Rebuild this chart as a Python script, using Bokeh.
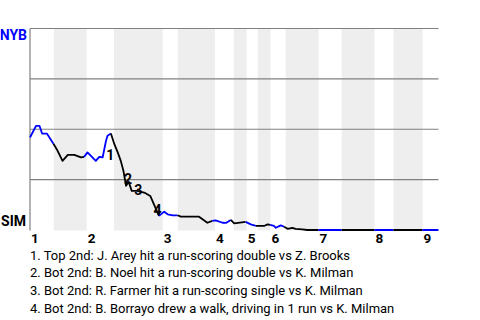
import numpy as np
from bokeh.plotting import figure
from bokeh.models import Range1d
from bokeh.embed import file_html
from bokeh.resources import INLINE
from bokeh.core.properties import value

# ---- data ----
half_inning_starts = [0, 6.3, 15.0, 22.2, 35.1, 39.1, 48.9, 53.9, 57.3, 60.2,
                      63.6, 67.6, 76.3, 82.4, 91.1, 96.1, 103.8]
game_end = 108
inning_labels = ["1", "2", "3", "4", "5", "6", "7", "8", "9"]

pa_x = [0, 1.6, 2.5, 3.2, 4.5, 6.2,
        7.3, 8.6, 10.0, 11.7, 13.5, 14.3,
        15.2, 17.4, 18.3, 19.2, 20.1, 20.5, 21.4,
        22.3, 23.2, 24.0, 24.7, 25.4, 26.1, 26.9, 28.3, 30.2, 31.8, 34.1,
        35.5, 36.4, 37.7, 39.0,
        39.9, 44.7, 46.9, 48.2,
        49.1, 50.9, 51.8, 53.1,
        54.0, 57.0,
        58.4, 59.7,
        61.9, 62.8, 63.5,
        64.5, 65.0, 66.3, 67.2,
        68.1, 69.4, 70.2, 72.0, 73.3, 76.3,
        82.4, 91.1, 96.1, 103.8, 108]
nyb_wp = [0.459, 0.517, 0.517, 0.479, 0.478, 0.428,
          0.393, 0.343, 0.373, 0.373, 0.360, 0.363,
          0.385, 0.343, 0.363, 0.360, 0.443, 0.468, 0.479,
          0.426, 0.385, 0.343, 0.294, 0.219, 0.239, 0.194, 0.194, 0.186, 0.169, 0.070,
          0.091, 0.078, 0.073, 0.073,
          0.066, 0.066, 0.036, 0.045,
          0.048, 0.036, 0.035, 0.050,
          0.033, 0.040,
          0.028, 0.020,
          0.020, 0.028, 0.025,
          0.020, 0.011, 0.023, 0.016,
          0.006, 0.011, 0.006, 0.003, 0.0, 0.0,
          0.0, 0.0, 0.0, 0.0, 0.0]

event_ids = ["1", "2", "3", "4"]
event_x = [21.2, 25.9, 28.6, 33.7]
event_y = [0.376, 0.254, 0.199, 0.102]
event_notes = [
    "1. Top 2nd: J. Arey hit a run-scoring double vs Z. Brooks",
    "2. Bot 2nd: B. Noel hit a run-scoring double vs K. Milman",
    "3. Bot 2nd: R. Farmer hit a run-scoring single vs K. Milman",
    "4. Bot 2nd: B. Borrayo drew a walk, driving in 1 run vs K. Milman",
]
team_top = "NYB"
team_bottom = "SIM"
grid_levels = [0.25, 0.5, 0.75, 1.0]

TOP_COLOR = "#0000ff"
BOT_COLOR = "#000000"
FONT = value("Roboto")

# frame fills the whole canvas; ranges place the chart area inside it
PX_X = 3.782   # pixels per plate-appearance unit
PX_Y = 201.5   # pixels per unit of probability
X_ORIGIN, Y_ORIGIN = 29.5, 229.5
x_rng = Range1d(-X_ORIGIN / PX_X, (480 - X_ORIGIN) / PX_X)
y_rng = Range1d((Y_ORIGIN - 320) / PX_Y, Y_ORIGIN / PX_Y)
y_floor = -0.5 / PX_Y

p = figure(width=480, height=320, output_backend="svg", toolbar_location=None,
           x_axis_location=None, y_axis_location=None,
           x_range=x_rng, y_range=y_rng,
           min_border=0, min_border_left=0, min_border_right=0,
           min_border_top=0, min_border_bottom=0)
p.outline_line_color = None
p.background_fill_color = "white"
p.border_fill_color = "white"
p.grid.grid_line_color = None

# bottom-half shading
starts = half_inning_starts + [game_end]
lefts = [starts[k] for k in range(1, len(half_inning_starts), 2)]
rights = [starts[k + 1] for k in range(1, len(half_inning_starts), 2)]
p.quad(left=lefts, right=rights, bottom=y_floor, top=1.0,
       fill_color="#eeeeee", line_color=None)

# grid lines and left axis line
p.segment(x0=[0] * len(grid_levels), x1=[game_end] * len(grid_levels),
          y0=grid_levels, y1=grid_levels, line_color="#808080", line_width=1.2)
p.segment(x0=[0], x1=[0], y0=[y_floor], y1=[1.0], line_color="#808080",
          line_width=1.2)

# win-probability line coloured by half inning
xs_arr = np.array(pa_x)
halves = np.searchsorted(np.array(half_inning_starts), xs_arr, side="left") - 1
runs_x, runs_y, runs_c = [], [], []
cur_c = None
for i in range(1, len(pa_x)):
    c = TOP_COLOR if halves[i] % 2 == 0 else BOT_COLOR
    if c != cur_c:
        runs_x.append([pa_x[i - 1]])
        runs_y.append([nyb_wp[i - 1]])
        runs_c.append(c)
        cur_c = c
    runs_x[-1].append(pa_x[i])
    runs_y[-1].append(nyb_wp[i])
p.multi_line(xs=runs_x, ys=runs_y, line_color=runs_c, line_width=1.8,
             line_join="round")

# event markers
p.text(x=event_x, y=event_y, text=event_ids, text_font=FONT,
       text_font_size="14px", text_font_style="bold", text_color="black",
       text_align="center", text_baseline="middle")

# team labels
p.text(x=[0], y=[0.967], text=[team_top], x_offset=-3, text_font=FONT,
       text_font_size="14px", text_font_style="bold", text_color=TOP_COLOR,
       text_align="right", text_baseline="middle")
p.text(x=[0], y=[0.045], text=[team_bottom], x_offset=-4, text_font=FONT,
       text_font_size="14px", text_font_style="bold", text_color=BOT_COLOR,
       text_align="right", text_baseline="middle")

# inning labels
p.text(x=half_inning_starts[0::2], y=[0] * len(inning_labels), text=inning_labels,
       x_offset=1, y_offset=8.5, text_font=FONT, text_font_size="13.5px",
       text_font_style="bold", text_color="black",
       text_align="left", text_baseline="middle")

# footnotes
p.text(x=[0] * len(event_notes), y=[0] * len(event_notes), text=event_notes,
       x_offset=0, y_offset=[25 + 17.7 * i for i in range(len(event_notes))],
       text_font=FONT, text_font_size="13px", text_color="black",
       text_align="left", text_baseline="middle")

open("out.html", "w").write(file_html(p, INLINE))
